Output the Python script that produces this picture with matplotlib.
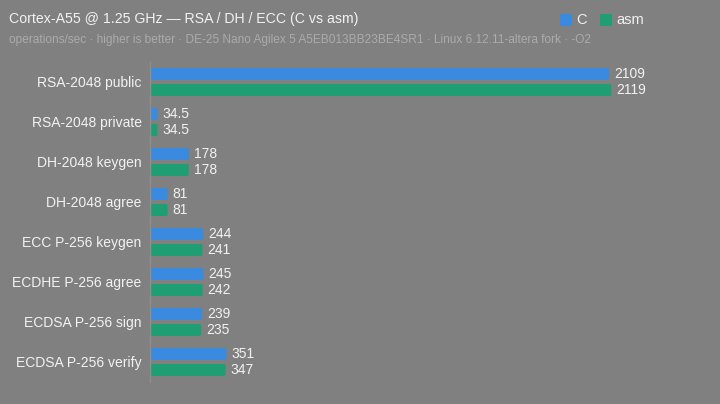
import matplotlib
matplotlib.use("Agg")
import matplotlib.pyplot as plt
from matplotlib.patches import FancyBboxPatch

categories = ["RSA-2048 public", "RSA-2048 private", "DH-2048 keygen", "DH-2048 agree",
              "ECC P-256 keygen", "ECDHE P-256 agree", "ECDSA P-256 sign", "ECDSA P-256 verify"]
c_vals = [2109, 34.5, 178, 81, 244, 245, 239, 351]
asm_vals = [2119, 34.5, 178, 81, 241, 242, 235, 347]
series_names = ["C", "asm"]

BG = "#808080"
BLUE = "#3a8ae0"
GREEN = "#1f9e74"
TXT = "#f2f2f2"
SUB = "#ababab"

plt.rcParams['font.family'] = ['Liberation Sans', 'DejaVu Sans']

fig = plt.figure(figsize=(7.2, 4.04), dpi=100, facecolor=BG)
W, H = 720, 404
ax_l, ax_r, ax_t, ax_b = 150, 690, 62, 382
ax = fig.add_axes([ax_l / W, 1 - ax_b / H, (ax_r - ax_l) / W, (ax_b - ax_t) / H])
ax.set_facecolor(BG)

px_per_unit = 0.2177
xmax = (ax_r - ax_l) / px_per_unit
ax.set_xlim(0, xmax)
ax.set_ylim(len(categories) - 0.5, -0.5)

bh = 0.3
off = 0.2
ys = list(range(len(categories)))
bars_c = ax.barh([y - off for y in ys], c_vals, height=bh, color=BLUE)
bars_a = ax.barh([y + off for y in ys], asm_vals, height=bh, color=GREEN)

# replace with rounded bars
r_px = 2.0
r_x = r_px / px_per_unit
r_y = r_px / 40.0
for bars in (bars_c, bars_a):
    for b in bars:
        x0, y0 = b.get_x(), b.get_y()
        w, h = b.get_width(), b.get_height()
        rr = min(r_x, w / 2)
        p = FancyBboxPatch((x0, y0), w, h,
                           boxstyle=f"round,pad=0,rounding_size={rr}",
                           mutation_aspect=r_y / r_x,
                           facecolor=b.get_facecolor(), edgecolor="none")
        b.set_visible(False)
        ax.add_patch(p)

def fmt(v):
    return f"{int(v)}" if float(v).is_integer() else f"{v}"

for bars, vals in ((bars_c, c_vals), (bars_a, asm_vals)):
    for b, v in zip(bars, vals):
        ax.annotate(fmt(v), (b.get_width(), b.get_y() + b.get_height() / 2),
                    xytext=(3.5, 0), textcoords="offset points",
                    ha="left", va="center", color=TXT, fontsize=10)

ax.set_yticks(ys)
ax.set_yticklabels(categories, color=TXT, fontsize=10)
ax.tick_params(axis="y", length=0, pad=6)
ax.set_xticks([])
for s in ("top", "right", "bottom"):
    ax.spines[s].set_visible(False)
ax.spines["left"].set_color("#8e8e8e")
ax.spines["left"].set_linewidth(1)

fig.text(9 / W, 1 - 19 / H, "Cortex-A55 @ 1.25 GHz — RSA / DH / ECC (C vs asm)",
         color=TXT, fontsize=10.2, ha="left", va="center")
fig.text(9 / W, 1 - 40.5 / H,
         "operations/sec · higher is better · DE-25 Nano Agilex 5 A5EB013BB23BE4SR1 · Linux 6.12.11-altera fork · -O2",
         color=SUB, fontsize=8.6, ha="left", va="center")

# legend
lx = [560, 600]
for name, col, x in zip(series_names, [BLUE, GREEN], lx):
    fig.patches.append(FancyBboxPatch((x / W, 1 - 26 / H), 12 / W, 12 / H,
                                      boxstyle="round,pad=0,rounding_size=0.002",
                                      transform=fig.transFigure, facecolor=col,
                                      edgecolor="none"))
    fig.text((x + 16) / W, 1 - 19.5 / H, name, color=TXT, fontsize=10.5,
             ha="left", va="center")

fig.savefig("out.png", dpi=100, facecolor=BG)
